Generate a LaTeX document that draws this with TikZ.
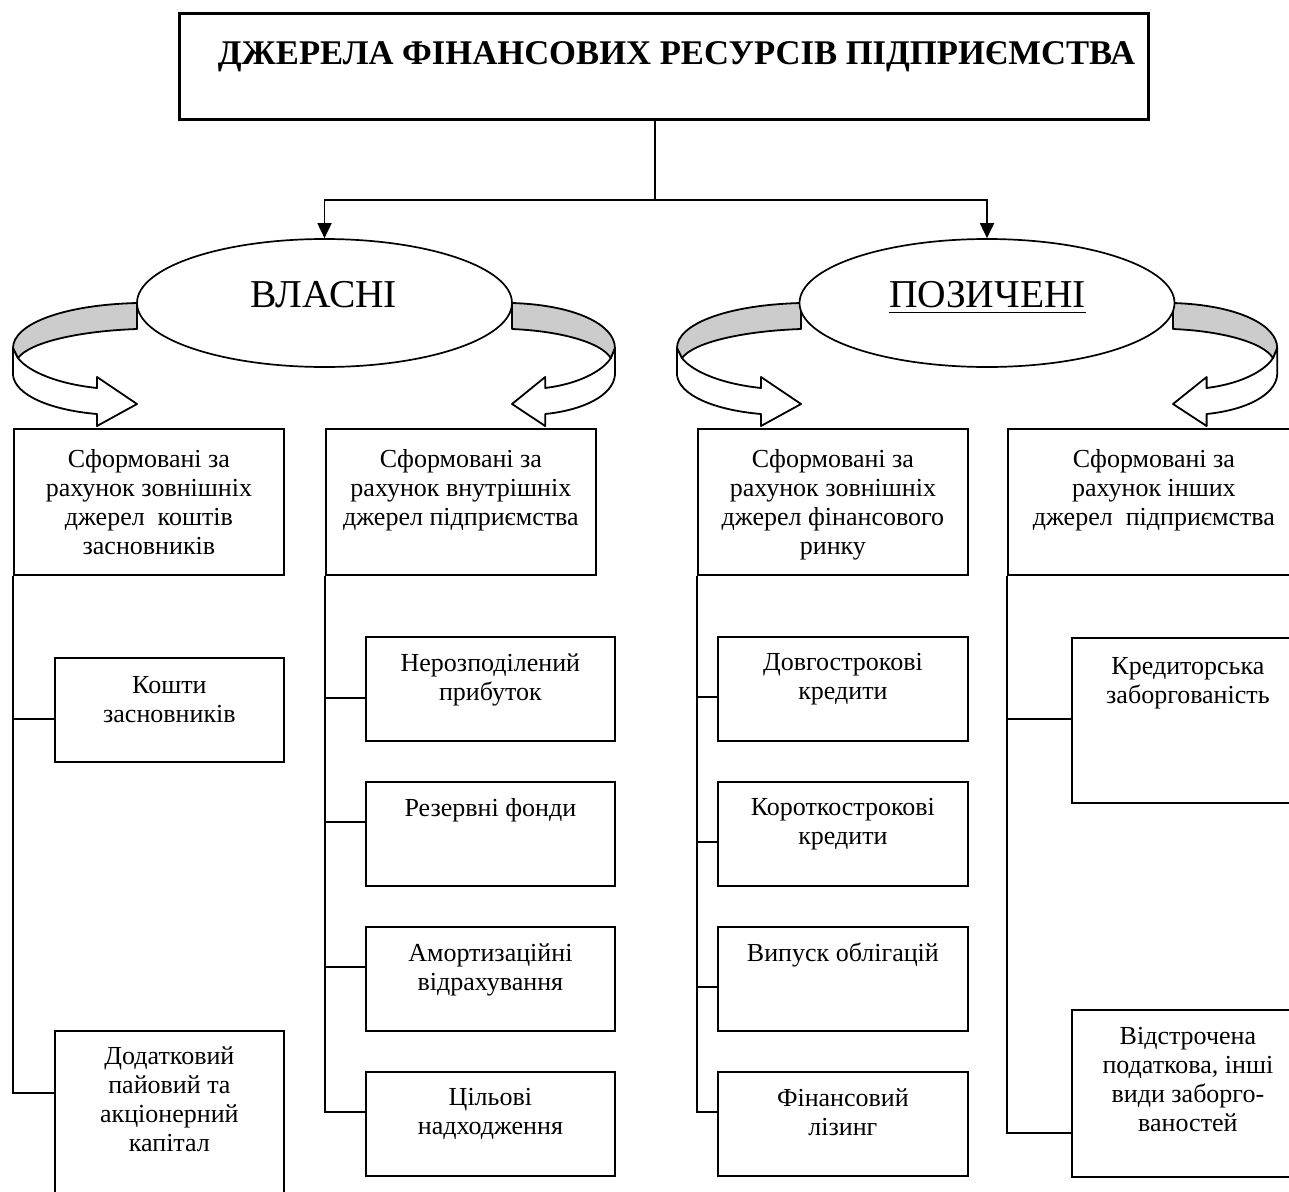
\documentclass[tikz,border=0pt]{standalone}
\usepackage{fontspec}
\setmainfont{Liberation Serif}
\usetikzlibrary{shapes.geometric,arrows.meta,calc}

\tikzset{
  frame/.style={draw, line width=1.8pt, rectangle, inner sep=0pt, anchor=north west},
  boxtext/.style={font=\fontsize{26}{29}\selectfont, align=center, inner sep=0pt, anchor=north},
  oval/.style={draw, ellipse, line width=1.7pt, fill=white, inner sep=0pt,
               minimum width=375pt, minimum height=128pt},
  ovaltext/.style={font=\fontsize{39.5}{44}\selectfont, inner sep=0pt, anchor=base},
  link/.style={line width=1.8pt},
  ribbonline/.style={line width=1.8pt, line join=round},
  downtip/.style={-{Triangle[length=15pt,width=14pt]}},
}

% curved ribbon arrow, drawn leftwards from the point (0,0)
\newcommand\ribbonarrow{%
  \filldraw[fill=white, ribbonline] (-124,-45) -- (-124,-72)
    .. controls (-122,-92) and (-87,-107) .. (-40,-111) -- (-40,-123) -- (0,-101)
    -- (-40,-74) -- (-40,-85) .. controls (-87,-80) and (-112,-65) .. (-119,-55) -- cycle;
  \filldraw[fill=black!20, ribbonline] (0,0) .. controls (-77,-2) and (-124,-22) .. (-124,-45)
    -- (-119,-55) .. controls (-107,-39) and (-57,-28) .. (0,-26) -- cycle;
}

% box: name, left, top, width, height
\newcommand\boxat[5]{\node[frame, minimum width=#4pt, minimum height=#5pt] (#1) at (#2,-#3) {};}

\begin{document}
\begin{tikzpicture}[x=1pt, y=1pt]
\useasboundingbox (0,0) rectangle (1289,-1191);
\clip (0,0) rectangle (1289,-1191);

% title
\node[draw, line width=2.6pt, rectangle, inner sep=0pt, anchor=north west,
      minimum width=969pt, minimum height=106pt] (title) at (178,-12) {};
\node[inner sep=0pt, anchor=base] (titletext) at (676.5,-64)
  {\resizebox{917pt}{!}{\bfseries ДЖЕРЕЛА ФІНАНСОВИХ РЕСУРСІВ ПІДПРИЄМСТВА}};

% two groups
\coordinate (split) at (655,-200);
\coordinate (topstem) at (655,-118);

\begin{scope}[shift={(137,-303)}]\ribbonarrow\end{scope}
\begin{scope}[shift={(512,-303)}, xscale=-0.83]\ribbonarrow\end{scope}
\begin{scope}[shift={(801,-303)}]\ribbonarrow\end{scope}
\begin{scope}[shift={(1173,-303)}, xscale=-0.84]\ribbonarrow\end{scope}

\node[oval] (own) at (324.5,-303) {};
\node[oval] (borrowed) at (987,-303) {};
\node[ovaltext] (owntext) at (324,-307) {ВЛАСНІ};
\node[ovaltext] (borrowedtext) at (987.5,-307) {ПОЗИЧЕНІ};
\draw[line width=1.8pt] ([yshift=-5.5pt]borrowedtext.base west) -- ([yshift=-5.5pt]borrowedtext.base east);

\draw[link] (topstem) -- (split);
\draw[link, downtip] (split) -| (own.north);
\draw[link, downtip] (split) -| (borrowed.north);

% header boxes
\boxat{h1}{13}{428}{270}{146}
\boxat{h2}{325}{428}{270}{146}
\boxat{h3}{697}{428}{270}{146}
\boxat{h4}{1007}{428}{292}{146}
\node[boxtext] (h1t) at ($(h1.north)+(0,-21)$) {Сформовані за\\рахунок зовнішніх\\джерел\ \ коштів\\засновників};
\node[boxtext] (h2t) at ($(h2.north)+(0,-21)$) {Сформовані за\\рахунок внутрішніх\\джерел підприємства};
\node[boxtext] (h3t) at ($(h3.north)+(0,-21)$) {Сформовані за\\рахунок зовнішніх\\джерел фінансового\\ринку};
\node[boxtext] (h4t) at ($(h4.north)+(0,-21)$) {Сформовані за\\рахунок інших\\джерел\ \ підприємства};

% column 1
\boxat{a1}{54}{657}{229}{104}
\boxat{a2}{54}{1030}{229}{180}
\node[boxtext] (a1t) at ($(a1.north)+(0,-19)$) {Кошти\\засновників};
\node[boxtext] (a2t) at ($(a2.north)+(0,-16)$) {Додатковий\\пайовий та\\акціонерний\\капітал};
\draw[link] (h1.south west) |- ($(a1.north west)+(0,-62)$);
\draw[link] (h1.south west) |- ($(a2.north west)+(0,-63)$);

% column 2
\boxat{b1}{365}{636}{249}{104}
\boxat{b2}{365}{781}{249}{104}
\boxat{b3}{365}{926}{249}{104}
\boxat{b4}{365}{1071}{249}{104}
\node[boxtext] (b1t) at ($(b1.north)+(0,-17)$) {Нерозподілений\\прибуток};
\node[boxtext] (b2t) at ($(b2.north)+(0,-17)$) {Резервні фонди};
\node[boxtext] (b3t) at ($(b3.north)+(0,-17)$) {Амортизаційні\\відрахування};
\node[boxtext] (b4t) at ($(b4.north)+(0,-17)$) {Цільові\\надходження};
\draw[link] (h2.south west) |- ($(b1.north west)+(0,-62)$);
\draw[link] (h2.south west) |- ($(b2.north west)+(0,-41)$);
\draw[link] (h2.south west) |- ($(b3.north west)+(0,-41)$);
\draw[link] (h2.south west) |- ($(b4.north west)+(0,-41)$);

% column 3
\boxat{c1}{717}{636}{250}{104}
\boxat{c2}{717}{781}{250}{104}
\boxat{c3}{717}{926}{250}{104}
\boxat{c4}{717}{1071}{250}{104}
\node[boxtext] (c1t) at ($(c1.north)+(0,-17)$) {Довгострокові\\кредити};
\node[boxtext] (c2t) at ($(c2.north)+(0,-17)$) {Короткострокові\\кредити};
\node[boxtext] (c3t) at ($(c3.north)+(0,-17)$) {Випуск облігацій};
\node[boxtext] (c4t) at ($(c4.north)+(0,-17)$) {Фінансовий\\лізинг};
\draw[link] (h3.south west) |- ($(c1.north west)+(0,-61)$);
\draw[link] (h3.south west) |- ($(c2.north west)+(0,-61)$);
\draw[link] (h3.south west) |- ($(c3.north west)+(0,-61)$);
\draw[link] (h3.south west) |- ($(c4.north west)+(0,-41)$);

% column 4
\boxat{d1}{1071}{637}{232}{165}
\boxat{d2}{1071}{1009}{232}{167}
\node[boxtext] (d1t) at ($(d1.north)+(0,-20)$) {Кредиторська\\заборгованість};
\node[boxtext] (d2t) at ($(d2.north)+(0,-18)$) {Відстрочена\\податкова, інші\\види заборго-\\ваностей};
\draw[link] (h4.south west) |- ($(d1.north west)+(0,-82)$);
\draw[link] (h4.south west) |- ($(d2.north west)+(0,-124)$);
\end{tikzpicture}
\end{document}
